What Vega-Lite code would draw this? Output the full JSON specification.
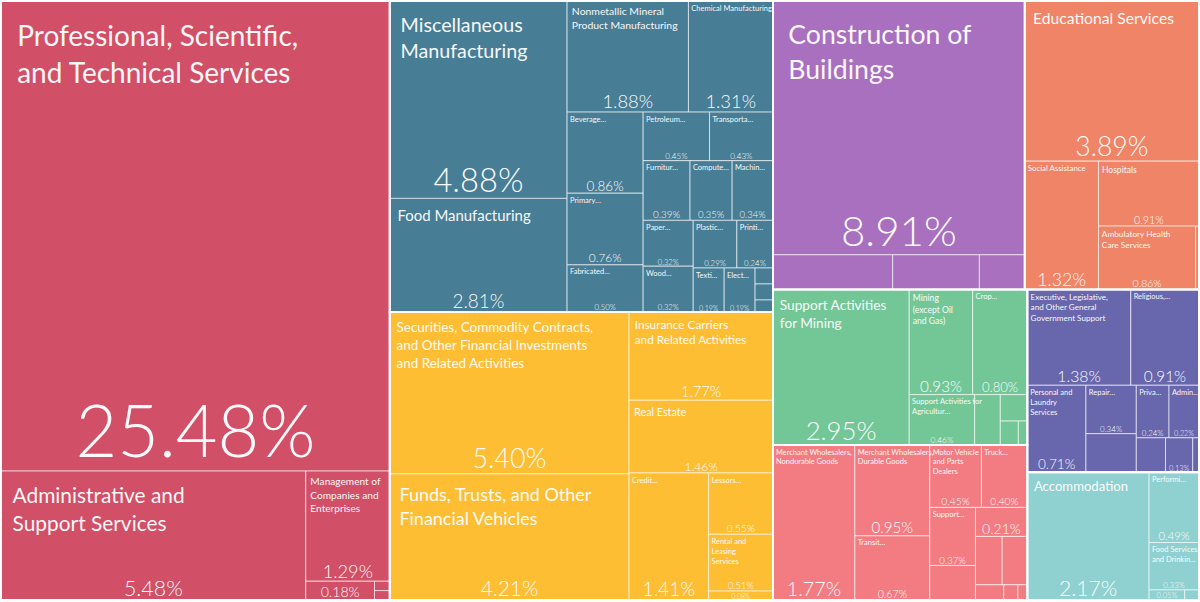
{
  "$schema": "https://vega.github.io/schema/vega-lite/v6.json",
  "width": 1200,
  "height": 602,
  "autosize": {"type": "fit", "contains": "padding"},
  "padding": 0,
  "background": "white",
  "config": {"view": {"stroke": null}},
  "data": {
    "values": [
      {"path": "1.1", "sector": "Professional & Business Services", "name": "Professional, Scientific,\nand Technical Services", "v": 25.48},
      {"path": "1.2.1", "sector": "Professional & Business Services", "name": "Administrative and\nSupport Services", "v": 5.48},
      {"path": "1.2.2.1", "sector": "Professional & Business Services", "name": "Management of\nCompanies and\nEnterprises", "v": 1.29},
      {"path": "1.2.2.2.1", "sector": "Professional & Business Services", "name": "", "v": 0.18},
      {"path": "1.2.2.2.2.1", "sector": "Professional & Business Services", "name": null, "v": 0.02},
      {"path": "1.2.2.2.2.2", "sector": "Professional & Business Services", "name": null, "v": 0.02},

      {"path": "2.1.1.1", "sector": "Manufacturing", "name": "Miscellaneous\nManufacturing", "v": 4.88},
      {"path": "2.1.1.2", "sector": "Manufacturing", "name": "Food Manufacturing", "v": 2.81},
      {"path": "2.1.2.1.1", "sector": "Manufacturing", "name": "Nonmetallic Mineral\nProduct Manufacturing", "v": 1.88},
      {"path": "2.1.2.1.2", "sector": "Manufacturing", "name": "Chemical Manufacturing", "v": 1.31},
      {"path": "2.1.2.2.1.1", "sector": "Manufacturing", "name": "Beverage…", "v": 0.86},
      {"path": "2.1.2.2.1.2", "sector": "Manufacturing", "name": "Primary…", "v": 0.76},
      {"path": "2.1.2.2.1.3", "sector": "Manufacturing", "name": "Fabricated…", "v": 0.50},
      {"path": "2.1.2.2.2.1.1", "sector": "Manufacturing", "name": "Petroleum…", "v": 0.45},
      {"path": "2.1.2.2.2.1.2", "sector": "Manufacturing", "name": "Transporta…", "v": 0.43},
      {"path": "2.1.2.2.2.2.1.1", "sector": "Manufacturing", "name": "Furnitur…", "v": 0.39},
      {"path": "2.1.2.2.2.2.1.2", "sector": "Manufacturing", "name": "Compute…", "v": 0.35},
      {"path": "2.1.2.2.2.2.1.3", "sector": "Manufacturing", "name": "Machin…", "v": 0.34},
      {"path": "2.1.2.2.2.2.2.1.1", "sector": "Manufacturing", "name": "Paper…", "v": 0.32},
      {"path": "2.1.2.2.2.2.2.1.2", "sector": "Manufacturing", "name": "Wood…", "v": 0.32},
      {"path": "2.1.2.2.2.2.2.2.1.1", "sector": "Manufacturing", "name": "Plastic…", "v": 0.29},
      {"path": "2.1.2.2.2.2.2.2.1.2", "sector": "Manufacturing", "name": "Printi…", "v": 0.24},
      {"path": "2.1.2.2.2.2.2.2.2.1", "sector": "Manufacturing", "name": "Texti…", "v": 0.19},
      {"path": "2.1.2.2.2.2.2.2.2.2", "sector": "Manufacturing", "name": "Elect…", "v": 0.19},
      {"path": "2.1.2.2.2.2.2.2.2.3.1", "sector": "Manufacturing", "name": null, "v": 0.04},
      {"path": "2.1.2.2.2.2.2.2.2.3.2", "sector": "Manufacturing", "name": null, "v": 0.04},
      {"path": "2.1.2.2.2.2.2.2.2.3.3", "sector": "Manufacturing", "name": null, "v": 0.03},

      {"path": "2.2.1.1", "sector": "Finance & Real Estate", "name": "Securities, Commodity Contracts,\nand Other Financial Investments\nand Related Activities", "v": 5.40},
      {"path": "2.2.1.2", "sector": "Finance & Real Estate", "name": "Funds, Trusts, and Other\nFinancial Vehicles", "v": 4.21},
      {"path": "2.2.2.1", "sector": "Finance & Real Estate", "name": "Insurance Carriers\nand Related Activities", "v": 1.77},
      {"path": "2.2.2.2", "sector": "Finance & Real Estate", "name": "Real Estate", "v": 1.46},
      {"path": "2.2.2.3.1", "sector": "Finance & Real Estate", "name": "Credit…", "v": 1.41},
      {"path": "2.2.2.3.2.1", "sector": "Finance & Real Estate", "name": "Lessors…", "v": 0.55},
      {"path": "2.2.2.3.2.2", "sector": "Finance & Real Estate", "name": "Rental and\nLeasing\nServices", "v": 0.51},
      {"path": "2.2.2.3.2.3", "sector": "Finance & Real Estate", "name": "", "v": 0.08},

      {"path": "3.1.1.1", "sector": "Construction", "name": "Construction of\nBuildings", "v": 8.91},
      {"path": "3.1.1.2.1", "sector": "Construction", "name": null, "v": 0.58},
      {"path": "3.1.1.2.2", "sector": "Construction", "name": null, "v": 0.42},
      {"path": "3.1.1.2.3", "sector": "Construction", "name": null, "v": 0.22},

      {"path": "3.1.2.1", "sector": "Education & Health", "name": "Educational Services", "v": 3.89},
      {"path": "3.1.2.2.1", "sector": "Education & Health", "name": "Social Assistance", "v": 1.32},
      {"path": "3.1.2.2.2.1", "sector": "Education & Health", "name": "Hospitals", "v": 0.91},
      {"path": "3.1.2.2.2.2.1", "sector": "Education & Health", "name": "Ambulatory Health\nCare Services", "v": 0.86},
      {"path": "3.1.2.2.2.2.2", "sector": "Education & Health", "name": null, "v": 0.03},

      {"path": "3.2.1.1.1", "sector": "Natural Resources", "name": "Support Activities\nfor Mining", "v": 2.95},
      {"path": "3.2.1.1.2.1.1", "sector": "Natural Resources", "name": "Mining\n(except Oil\nand Gas)", "v": 0.93},
      {"path": "3.2.1.1.2.1.2", "sector": "Natural Resources", "name": "Crop…", "v": 0.80},
      {"path": "3.2.1.1.2.2.1", "sector": "Natural Resources", "name": "Support Activities for\nAgricultur…", "v": 0.46},
      {"path": "3.2.1.1.2.2.2", "sector": "Natural Resources", "name": null, "v": 0.18},
      {"path": "3.2.1.1.2.2.3.1", "sector": "Natural Resources", "name": null, "v": 0.10},
      {"path": "3.2.1.1.2.2.3.2.1", "sector": "Natural Resources", "name": null, "v": 0.06},
      {"path": "3.2.1.1.2.2.3.2.2", "sector": "Natural Resources", "name": null, "v": 0.03},

      {"path": "3.2.1.2.1", "sector": "Trade & Transportation", "name": "Merchant Wholesalers,\nNondurable Goods", "v": 1.77},
      {"path": "3.2.1.2.2.1.1", "sector": "Trade & Transportation", "name": "Merchant Wholesalers,\nDurable Goods", "v": 0.95},
      {"path": "3.2.1.2.2.1.2", "sector": "Trade & Transportation", "name": "Transit…", "v": 0.67},
      {"path": "3.2.1.2.2.2.1.1", "sector": "Trade & Transportation", "name": "Motor Vehicle\nand Parts\nDealers", "v": 0.45},
      {"path": "3.2.1.2.2.2.1.2", "sector": "Trade & Transportation", "name": "Truck…", "v": 0.40},
      {"path": "3.2.1.2.2.2.2.1.1", "sector": "Trade & Transportation", "name": "Support…", "v": 0.37},
      {"path": "3.2.1.2.2.2.2.1.2", "sector": "Trade & Transportation", "name": null, "v": 0.22},
      {"path": "3.2.1.2.2.2.2.2.1", "sector": "Trade & Transportation", "name": "", "v": 0.21},
      {"path": "3.2.1.2.2.2.2.2.2.1.1", "sector": "Trade & Transportation", "name": null, "v": 0.18},
      {"path": "3.2.1.2.2.2.2.2.2.1.2", "sector": "Trade & Transportation", "name": null, "v": 0.17},
      {"path": "3.2.1.2.2.2.2.2.2.2.1", "sector": "Trade & Transportation", "name": null, "v": 0.06},
      {"path": "3.2.1.2.2.2.2.2.2.2.2", "sector": "Trade & Transportation", "name": null, "v": 0.03},
      {"path": "3.2.1.2.2.2.2.2.2.2.3", "sector": "Trade & Transportation", "name": null, "v": 0.02},

      {"path": "3.2.2.1.1.1", "sector": "Government & Other Services", "name": "Executive, Legislative,\nand Other General\nGovernment Support", "v": 1.38},
      {"path": "3.2.2.1.1.2", "sector": "Government & Other Services", "name": "Religious,…", "v": 0.91},
      {"path": "3.2.2.1.2.1", "sector": "Government & Other Services", "name": "Personal and\nLaundry\nServices", "v": 0.71},
      {"path": "3.2.2.1.2.2.1.1", "sector": "Government & Other Services", "name": "Repair…", "v": 0.34},
      {"path": "3.2.2.1.2.2.1.2", "sector": "Government & Other Services", "name": null, "v": 0.27},
      {"path": "3.2.2.1.2.2.2.1.1", "sector": "Government & Other Services", "name": "Priva…", "v": 0.24},
      {"path": "3.2.2.1.2.2.2.1.2", "sector": "Government & Other Services", "name": "Admin…", "v": 0.22},
      {"path": "3.2.2.1.2.2.2.2.1", "sector": "Government & Other Services", "name": null, "v": 0.14},
      {"path": "3.2.2.1.2.2.2.2.2", "sector": "Government & Other Services", "name": "", "v": 0.13},
      {"path": "3.2.2.1.2.2.2.2.3", "sector": "Government & Other Services", "name": null, "v": 0.03},

      {"path": "3.2.2.2.1", "sector": "Leisure & Hospitality", "name": "Accommodation", "v": 2.17},
      {"path": "3.2.2.2.2.1", "sector": "Leisure & Hospitality", "name": "Performi…", "v": 0.49},
      {"path": "3.2.2.2.2.2", "sector": "Leisure & Hospitality", "name": "Food Services\nand Drinkin…", "v": 0.33},
      {"path": "3.2.2.2.2.3.1", "sector": "Leisure & Hospitality", "name": "", "v": 0.05},
      {"path": "3.2.2.2.2.3.2", "sector": "Leisure & Hospitality", "name": null, "v": 0.02}
    ]
  },
  "transform": [
    {"calculate": "split(datum.path, '.')", "as": "parts"},
    {"joinaggregate": [{"op": "sum", "field": "v", "as": "t0"}]},
    {"calculate": "'r'", "as": "q0"},
    {"calculate": "0", "as": "x0"},
    {"calculate": "0", "as": "y0"},
    {"calculate": "1", "as": "w"},
    {"calculate": "1", "as": "h"},

    {"calculate": "join(slice(datum.parts, 0, 1), '.')", "as": "q1"},
    {"window": [{"op": "sum", "field": "v", "as": "c1"}], "groupby": ["q0"], "sort": [{"field": "q1"}], "frame": [null, 0]},
    {"joinaggregate": [{"op": "sum", "field": "v", "as": "t1"}], "groupby": ["q1"]},
    {"calculate": "datum.w * 1200 >= datum.h * 602", "as": "hz"},
    {"calculate": "datum.hz ? datum.x0 + (datum.c1 - datum.t1) / datum.t0 * datum.w : datum.x0", "as": "x0"},
    {"calculate": "datum.hz ? datum.t1 / datum.t0 * datum.w : datum.w", "as": "w"},
    {"calculate": "datum.hz ? datum.y0 : datum.y0 + (datum.c1 - datum.t1) / datum.t0 * datum.h", "as": "y0"},
    {"calculate": "datum.hz ? datum.h : datum.t1 / datum.t0 * datum.h", "as": "h"},

    {"calculate": "join(slice(datum.parts, 0, 2), '.')", "as": "q2"},
    {"window": [{"op": "sum", "field": "v", "as": "c2"}], "groupby": ["q1"], "sort": [{"field": "q2"}], "frame": [null, 0]},
    {"joinaggregate": [{"op": "sum", "field": "v", "as": "t2"}], "groupby": ["q2"]},
    {"calculate": "datum.w * 1200 >= datum.h * 602", "as": "hz"},
    {"calculate": "datum.hz ? datum.x0 + (datum.c2 - datum.t2) / datum.t1 * datum.w : datum.x0", "as": "x0"},
    {"calculate": "datum.hz ? datum.t2 / datum.t1 * datum.w : datum.w", "as": "w"},
    {"calculate": "datum.hz ? datum.y0 : datum.y0 + (datum.c2 - datum.t2) / datum.t1 * datum.h", "as": "y0"},
    {"calculate": "datum.hz ? datum.h : datum.t2 / datum.t1 * datum.h", "as": "h"},

    {"calculate": "join(slice(datum.parts, 0, 3), '.')", "as": "q3"},
    {"window": [{"op": "sum", "field": "v", "as": "c3"}], "groupby": ["q2"], "sort": [{"field": "q3"}], "frame": [null, 0]},
    {"joinaggregate": [{"op": "sum", "field": "v", "as": "t3"}], "groupby": ["q3"]},
    {"calculate": "datum.w * 1200 >= datum.h * 602", "as": "hz"},
    {"calculate": "datum.hz ? datum.x0 + (datum.c3 - datum.t3) / datum.t2 * datum.w : datum.x0", "as": "x0"},
    {"calculate": "datum.hz ? datum.t3 / datum.t2 * datum.w : datum.w", "as": "w"},
    {"calculate": "datum.hz ? datum.y0 : datum.y0 + (datum.c3 - datum.t3) / datum.t2 * datum.h", "as": "y0"},
    {"calculate": "datum.hz ? datum.h : datum.t3 / datum.t2 * datum.h", "as": "h"},

    {"calculate": "join(slice(datum.parts, 0, 4), '.')", "as": "q4"},
    {"window": [{"op": "sum", "field": "v", "as": "c4"}], "groupby": ["q3"], "sort": [{"field": "q4"}], "frame": [null, 0]},
    {"joinaggregate": [{"op": "sum", "field": "v", "as": "t4"}], "groupby": ["q4"]},
    {"calculate": "datum.w * 1200 >= datum.h * 602", "as": "hz"},
    {"calculate": "datum.hz ? datum.x0 + (datum.c4 - datum.t4) / datum.t3 * datum.w : datum.x0", "as": "x0"},
    {"calculate": "datum.hz ? datum.t4 / datum.t3 * datum.w : datum.w", "as": "w"},
    {"calculate": "datum.hz ? datum.y0 : datum.y0 + (datum.c4 - datum.t4) / datum.t3 * datum.h", "as": "y0"},
    {"calculate": "datum.hz ? datum.h : datum.t4 / datum.t3 * datum.h", "as": "h"},

    {"calculate": "join(slice(datum.parts, 0, 5), '.')", "as": "q5"},
    {"window": [{"op": "sum", "field": "v", "as": "c5"}], "groupby": ["q4"], "sort": [{"field": "q5"}], "frame": [null, 0]},
    {"joinaggregate": [{"op": "sum", "field": "v", "as": "t5"}], "groupby": ["q5"]},
    {"calculate": "datum.w * 1200 >= datum.h * 602", "as": "hz"},
    {"calculate": "datum.hz ? datum.x0 + (datum.c5 - datum.t5) / datum.t4 * datum.w : datum.x0", "as": "x0"},
    {"calculate": "datum.hz ? datum.t5 / datum.t4 * datum.w : datum.w", "as": "w"},
    {"calculate": "datum.hz ? datum.y0 : datum.y0 + (datum.c5 - datum.t5) / datum.t4 * datum.h", "as": "y0"},
    {"calculate": "datum.hz ? datum.h : datum.t5 / datum.t4 * datum.h", "as": "h"},

    {"calculate": "join(slice(datum.parts, 0, 6), '.')", "as": "q6"},
    {"window": [{"op": "sum", "field": "v", "as": "c6"}], "groupby": ["q5"], "sort": [{"field": "q6"}], "frame": [null, 0]},
    {"joinaggregate": [{"op": "sum", "field": "v", "as": "t6"}], "groupby": ["q6"]},
    {"calculate": "datum.w * 1200 >= datum.h * 602", "as": "hz"},
    {"calculate": "datum.hz ? datum.x0 + (datum.c6 - datum.t6) / datum.t5 * datum.w : datum.x0", "as": "x0"},
    {"calculate": "datum.hz ? datum.t6 / datum.t5 * datum.w : datum.w", "as": "w"},
    {"calculate": "datum.hz ? datum.y0 : datum.y0 + (datum.c6 - datum.t6) / datum.t5 * datum.h", "as": "y0"},
    {"calculate": "datum.hz ? datum.h : datum.t6 / datum.t5 * datum.h", "as": "h"},

    {"calculate": "join(slice(datum.parts, 0, 7), '.')", "as": "q7"},
    {"window": [{"op": "sum", "field": "v", "as": "c7"}], "groupby": ["q6"], "sort": [{"field": "q7"}], "frame": [null, 0]},
    {"joinaggregate": [{"op": "sum", "field": "v", "as": "t7"}], "groupby": ["q7"]},
    {"calculate": "datum.w * 1200 >= datum.h * 602", "as": "hz"},
    {"calculate": "datum.hz ? datum.x0 + (datum.c7 - datum.t7) / datum.t6 * datum.w : datum.x0", "as": "x0"},
    {"calculate": "datum.hz ? datum.t7 / datum.t6 * datum.w : datum.w", "as": "w"},
    {"calculate": "datum.hz ? datum.y0 : datum.y0 + (datum.c7 - datum.t7) / datum.t6 * datum.h", "as": "y0"},
    {"calculate": "datum.hz ? datum.h : datum.t7 / datum.t6 * datum.h", "as": "h"},

    {"calculate": "join(slice(datum.parts, 0, 8), '.')", "as": "q8"},
    {"window": [{"op": "sum", "field": "v", "as": "c8"}], "groupby": ["q7"], "sort": [{"field": "q8"}], "frame": [null, 0]},
    {"joinaggregate": [{"op": "sum", "field": "v", "as": "t8"}], "groupby": ["q8"]},
    {"calculate": "datum.w * 1200 >= datum.h * 602", "as": "hz"},
    {"calculate": "datum.hz ? datum.x0 + (datum.c8 - datum.t8) / datum.t7 * datum.w : datum.x0", "as": "x0"},
    {"calculate": "datum.hz ? datum.t8 / datum.t7 * datum.w : datum.w", "as": "w"},
    {"calculate": "datum.hz ? datum.y0 : datum.y0 + (datum.c8 - datum.t8) / datum.t7 * datum.h", "as": "y0"},
    {"calculate": "datum.hz ? datum.h : datum.t8 / datum.t7 * datum.h", "as": "h"},

    {"calculate": "join(slice(datum.parts, 0, 9), '.')", "as": "q9"},
    {"window": [{"op": "sum", "field": "v", "as": "c9"}], "groupby": ["q8"], "sort": [{"field": "q9"}], "frame": [null, 0]},
    {"joinaggregate": [{"op": "sum", "field": "v", "as": "t9"}], "groupby": ["q9"]},
    {"calculate": "datum.w * 1200 >= datum.h * 602", "as": "hz"},
    {"calculate": "datum.hz ? datum.x0 + (datum.c9 - datum.t9) / datum.t8 * datum.w : datum.x0", "as": "x0"},
    {"calculate": "datum.hz ? datum.t9 / datum.t8 * datum.w : datum.w", "as": "w"},
    {"calculate": "datum.hz ? datum.y0 : datum.y0 + (datum.c9 - datum.t9) / datum.t8 * datum.h", "as": "y0"},
    {"calculate": "datum.hz ? datum.h : datum.t9 / datum.t8 * datum.h", "as": "h"},

    {"calculate": "join(slice(datum.parts, 0, 10), '.')", "as": "q10"},
    {"window": [{"op": "sum", "field": "v", "as": "c10"}], "groupby": ["q9"], "sort": [{"field": "q10"}], "frame": [null, 0]},
    {"joinaggregate": [{"op": "sum", "field": "v", "as": "t10"}], "groupby": ["q10"]},
    {"calculate": "datum.w * 1200 >= datum.h * 602", "as": "hz"},
    {"calculate": "datum.hz ? datum.x0 + (datum.c10 - datum.t10) / datum.t9 * datum.w : datum.x0", "as": "x0"},
    {"calculate": "datum.hz ? datum.t10 / datum.t9 * datum.w : datum.w", "as": "w"},
    {"calculate": "datum.hz ? datum.y0 : datum.y0 + (datum.c10 - datum.t10) / datum.t9 * datum.h", "as": "y0"},
    {"calculate": "datum.hz ? datum.h : datum.t10 / datum.t9 * datum.h", "as": "h"},

    {"calculate": "join(slice(datum.parts, 0, 11), '.')", "as": "q11"},
    {"window": [{"op": "sum", "field": "v", "as": "c11"}], "groupby": ["q10"], "sort": [{"field": "q11"}], "frame": [null, 0]},
    {"joinaggregate": [{"op": "sum", "field": "v", "as": "t11"}], "groupby": ["q11"]},
    {"calculate": "datum.w * 1200 >= datum.h * 602", "as": "hz"},
    {"calculate": "datum.hz ? datum.x0 + (datum.c11 - datum.t11) / datum.t10 * datum.w : datum.x0", "as": "x0"},
    {"calculate": "datum.hz ? datum.t11 / datum.t10 * datum.w : datum.w", "as": "w"},
    {"calculate": "datum.hz ? datum.y0 : datum.y0 + (datum.c11 - datum.t11) / datum.t10 * datum.h", "as": "y0"},
    {"calculate": "datum.hz ? datum.h : datum.t11 / datum.t10 * datum.h", "as": "h"},

    {"calculate": "datum.x0 + datum.w", "as": "x1"},
    {"calculate": "datum.y0 + datum.h", "as": "y1"},
    {"calculate": "datum.w * 1200", "as": "wp"},
    {"calculate": "datum.h * 602", "as": "hp"},
    {"calculate": "isString(datum.name) && length(datum.name) > 0", "as": "hasName"},
    {"calculate": "datum.hasName ? split(datum.name, '\\n') : ['']", "as": "lines"},
    {"calculate": "max(length(datum.lines[0]), length(datum.lines) > 1 ? length(datum.lines[1]) : 0, length(datum.lines) > 2 ? length(datum.lines[2]) : 0)", "as": "mc"},
    {"calculate": "datum.hasName ? (indexof(datum.name, '…') >= 0 ? 7.5 : clamp(min(1.8 * datum.wp / datum.mc, 0.105 * sqrt(datum.wp * datum.hp)), 7.5, 30)) : 0", "as": "nfs"},
    {"calculate": "datum.hasName ? max(6, min(72, 0.19 * sqrt(datum.wp * datum.hp), 0.165 * datum.hp, 0.24 * datum.wp)) : max(6, min(0.27 * datum.wp, 0.75 * datum.hp))", "as": "pfs"},
    {"calculate": "datum.x0 + max(2, 0.65 * datum.nfs - 2) / 1200", "as": "lx"},
    {"calculate": "datum.y0 + max(2, 0.95 * datum.nfs - 3.5) / 602", "as": "ly"},
    {"calculate": "datum.x0 + datum.w / 2", "as": "px"},
    {"calculate": "datum.y1 - 0.2 * datum.pfs / 602", "as": "py"},
    {"calculate": "format(datum.v, '.2f') + '%'", "as": "ptxt"}
  ],
  "layer": [
    {
      "mark": {"type": "rect", "stroke": "white", "strokeWidth": 1, "strokeOpacity": 0.6},
      "encoding": {
        "x": {"field": "x0", "type": "quantitative", "scale": {"domain": [0, 1], "nice": false, "zero": false}, "axis": null},
        "x2": {"field": "x1"},
        "y": {"field": "y0", "type": "quantitative", "scale": {"domain": [0, 1], "nice": false, "zero": false, "reverse": true}, "axis": null},
        "y2": {"field": "y1"},
        "color": {
          "field": "sector",
          "type": "nominal",
          "legend": null,
          "scale": {
            "domain": ["Professional & Business Services", "Manufacturing", "Finance & Real Estate", "Construction", "Education & Health", "Natural Resources", "Trade & Transportation", "Government & Other Services", "Leisure & Hospitality"],
            "range": ["#D14F67", "#487D96", "#FDBE33", "#A870BE", "#F08467", "#73C797", "#F37C82", "#6867AD", "#8FD0D0"]
          }
        }
      }
    },
    {
      "transform": [
        {"aggregate": [
          {"op": "min", "field": "x0", "as": "sx0"},
          {"op": "max", "field": "x1", "as": "sx1"},
          {"op": "min", "field": "y0", "as": "sy0"},
          {"op": "max", "field": "y1", "as": "sy1"}
        ], "groupby": ["sector"]}
      ],
      "mark": {"type": "rect", "fill": "transparent", "stroke": "white", "strokeWidth": 2},
      "encoding": {
        "x": {"field": "sx0", "type": "quantitative"},
        "x2": {"field": "sx1"},
        "y": {"field": "sy0", "type": "quantitative"},
        "y2": {"field": "sy1"}
      }
    },
    {
      "transform": [{"filter": "datum.hasName"}],
      "mark": {"type": "text", "align": "left", "baseline": "top", "lineBreak": "\n", "font": "Lato", "color": "white", "opacity": 0.95, "lineHeight": {"expr": "datum.nfs * 1.32"}},
      "encoding": {
        "x": {"field": "lx", "type": "quantitative"},
        "y": {"field": "ly", "type": "quantitative"},
        "text": {"field": "name"},
        "size": {"field": "nfs", "type": "quantitative", "scale": null}
      }
    },
    {
      "transform": [{"filter": "isString(datum.name)"}],
      "mark": {"type": "text", "align": "center", "baseline": "alphabetic", "font": "Lato", "fontWeight": 300, "color": "white", "opacity": 0.97},
      "encoding": {
        "x": {"field": "px", "type": "quantitative"},
        "y": {"field": "py", "type": "quantitative"},
        "text": {"field": "ptxt"},
        "size": {"field": "pfs", "type": "quantitative", "scale": null}
      }
    }
  ]
}
